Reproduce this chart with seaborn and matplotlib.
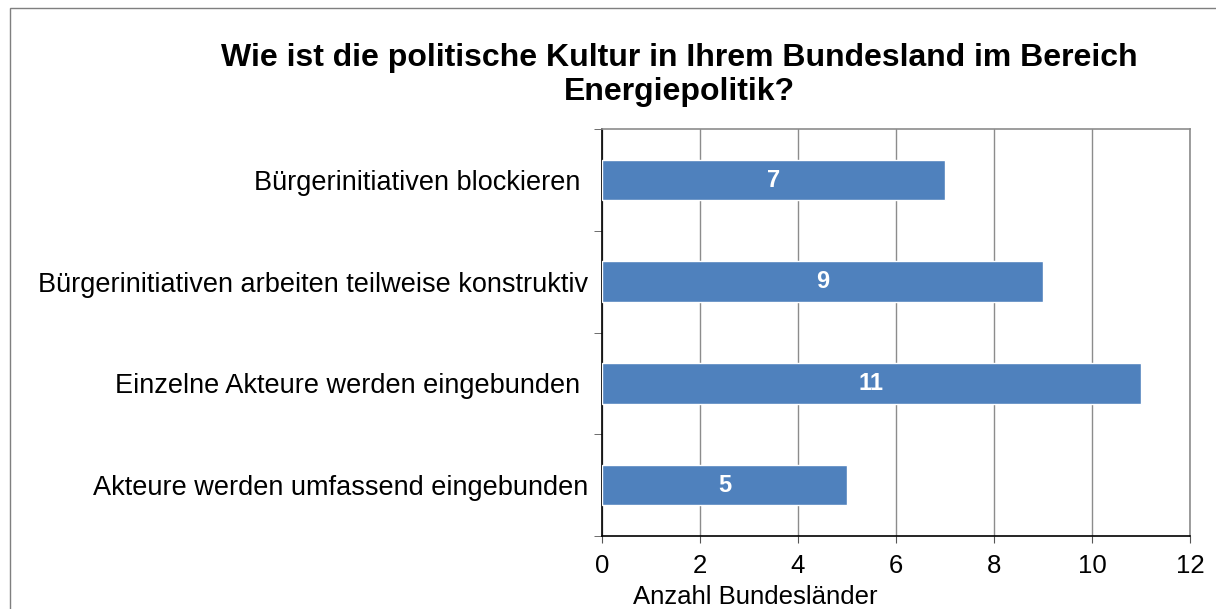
import matplotlib.pyplot as plt
import seaborn as sns
from matplotlib.patches import Rectangle

# Data
categories = ['Bürgerinitiativen blockieren ',
              'Bürgerinitiativen arbeiten teilweise konstruktiv',
              'Einzelne Akteure werden eingebunden ',
              'Akteure werden umfassend eingebunden']
counts = [7, 9, 11, 5]
x_ticks = [0, 2, 4, 6, 8, 10, 12]

sns.set_style('white')
plt.rcParams['font.family'] = ['Liberation Sans', 'DejaVu Sans']
plt.rcParams['text.color'] = 'black'

fig = plt.figure(figsize=(12.16, 6.09), dpi=100)
ax = fig.add_axes([0.495, 0.1199, 0.4836, 0.668])

# Draw bar chart
sns.barplot(x=counts, y=categories, color='#4F81BD', width=0.4,
            orient='h', ax=ax, zorder=3, saturation=1)
ax.bar_label(ax.containers[0], label_type='center', color='white',
             fontsize=17, fontweight='bold')

ax.set_xlim(0, 12)
ax.set_ylim(3.5, -0.5)
ax.set_xticks(x_ticks)
ax.grid(axis='x', color='#8c8c8c', linewidth=1, zorder=0)
ax.grid(axis='y', visible=False)

ax.tick_params(axis='y', which='major', length=0, labelsize=19.5, pad=10,
               labelcolor='black')
ax.set_yticks([-0.5, 0.5, 1.5, 2.5, 3.5], minor=True)
ax.tick_params(axis='y', which='minor', length=6, direction='out',
               color='#555555', left=True)
ax.tick_params(axis='x', length=5, direction='out', labelsize=18.5,
               color='#555555', bottom=True, pad=8, labelcolor='black')

for side in ['top', 'right']:
    ax.spines[side].set_color('#8c8c8c')
for side in ['left', 'bottom']:
    ax.spines[side].set_color('black')
for sp in ax.spines.values():
    sp.set_linewidth(1.2)

ax.set_xlabel('Anzahl Bundesländer', fontsize=18.5, color='black')
ax.xaxis.set_label_coords(0.26, -0.12)

fig.text(0.559, 0.93, 'Wie ist die politische Kultur in Ihrem Bundesland im Bereich\nEnergiepolitik?',
         ha='center', va='top', fontsize=23, fontweight='bold', linespacing=1.2)

# Outer chart border
fig.patches.append(Rectangle((10 / 1216, -0.1), 1.2, (609 - 8) / 609 + 0.1,
                             transform=fig.transFigure, fill=False,
                             edgecolor='#7f7f7f', linewidth=1))

fig.savefig('out.png', dpi=100)
